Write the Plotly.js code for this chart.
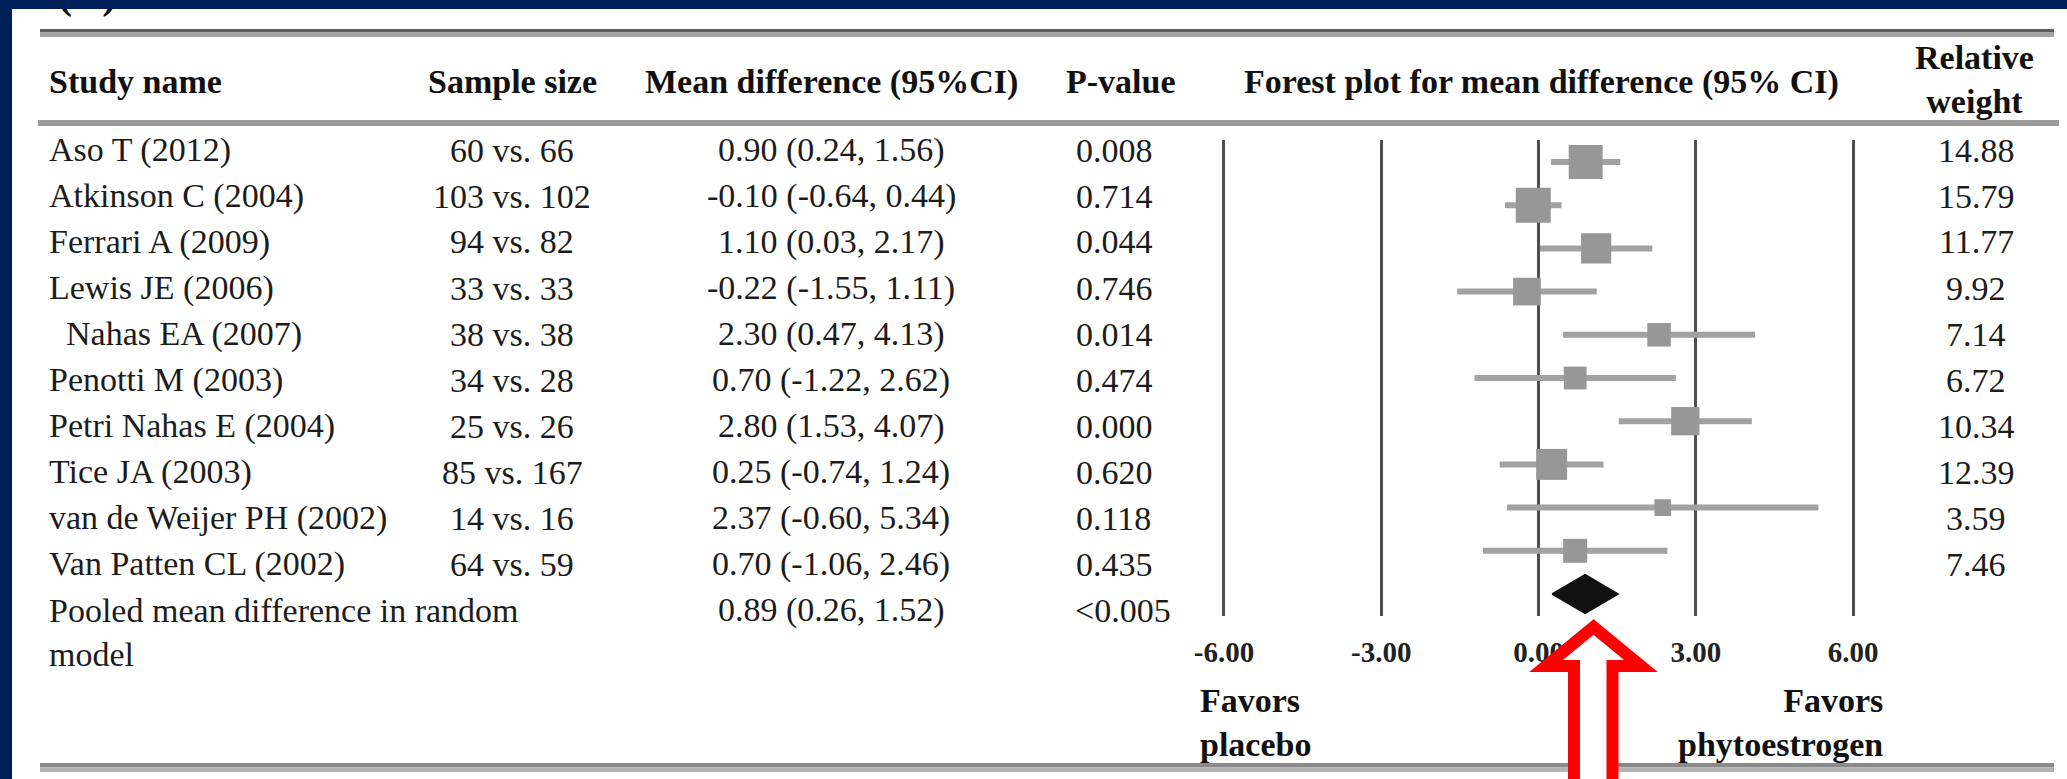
<!DOCTYPE html>
<html>
<head>
<meta charset="utf-8">
<script src="https://cdn.plot.ly/plotly-3.0.1.min.js"></script>
<style>
  html, body { margin: 0; padding: 0; background: #00205b; width: 2067px; height: 779px; overflow: hidden; }
  #chart { position: absolute; left: 12px; top: 9px; width: 2055px; height: 770px; overflow: hidden; background: #ffffff; }
</style>
</head>
<body>
<div id="chart"></div>
<script>
// ---------------- data ----------------
const studyNames = ['Aso T (2012)', 'Atkinson C (2004)', 'Ferrari A (2009)', 'Lewis JE (2006)', ' Nahas EA (2007)',
  'Penotti M (2003)', 'Petri Nahas E (2004)', 'Tice JA (2003)', 'van de Weijer PH (2002)', 'Van Patten CL (2002)'];
const sampleSizes = ['60 vs. 66', '103 vs. 102', '94 vs. 82', '33 vs. 33', '38 vs. 38',
  '34 vs. 28', '25 vs. 26', '85 vs. 167', '14 vs. 16', '64 vs. 59'];
const meanDiff = [0.90, -0.10, 1.10, -0.22, 2.30, 0.70, 2.80, 0.25, 2.37, 0.70];
const ciLower  = [0.24, -0.64, 0.03, -1.55, 0.47, -1.22, 1.53, -0.74, -0.60, -1.06];
const ciUpper  = [1.56, 0.44, 2.17, 1.11, 4.13, 2.62, 4.07, 1.24, 5.34, 2.46];
const pValues  = ['0.008', '0.714', '0.044', '0.746', '0.014', '0.474', '0.000', '0.620', '0.118', '0.435'];
const weights  = [14.88, 15.79, 11.77, 9.92, 7.14, 6.72, 10.34, 12.39, 3.59, 7.46];

const pooledLabel = 'Pooled mean difference in random<br>model';
const pooledMean = 0.89;
const pooledLower = 0.26;
const pooledUpper = 1.52;
const pooledP = '<0.005';

const headers = ['Study name', 'Sample size', 'Mean difference (95%CI)', 'P-value',
  'Forest plot for mean difference (95% CI)', 'Relative<br>weight'];
const tickValues = [-6, -3, 0, 3, 6];
const tickLabels = ['-6.00', '-3.00', '0.00', '3.00', '6.00'];
const favorsLeft = 'Favors<br>placebo';
const favorsRight = 'Favors<br>phytoestrogen';
const panelLabel = '(A)';

// ---------------- geometry (pixels of the full picture) ----------------
const OX = 12, OY = 9, W = 2055, H = 770;
const X = px => (px - OX) / W;
const Y = py => 1 - (py - OY) / H;
const esc = s => String(s).replace(/</g, '&lt;').replace(/>/g, '&gt;');

const FONT = 'Liberation Serif, Times New Roman, serif';
const TXT = '#1c1c1c';
const rowTop = 150, rowStep = 46;           // table text rows
const plotLeft = 1200, plotRight = 1880;    // forest plot horizontal extent
const zeroPx = 1538.5, unitPx = 52.42;
const plotTop = 140.4, plotBottom = 615.6;  // forest plot vertical extent

const rowIdx = meanDiff.map((_, i) => i);
const pooledIdx = meanDiff.length;
const diamondHalf = 0.45;

// ---------------- traces ----------------
const studyTrace = {
  type: 'scatter', mode: 'markers',
  x: meanDiff, y: rowIdx,
  marker: { symbol: 'square', color: '#979797', opacity: 1, size: weights.map(w => 8.8 * Math.sqrt(w)), line: { width: 0 } },
  error_x: {
    type: 'data', symmetric: false,
    array: ciUpper.map((u, i) => u - meanDiff[i]),
    arrayminus: ciLower.map((l, i) => meanDiff[i] - l),
    color: '#a2a2a2', thickness: 6, width: 0
  },
  hoverinfo: 'skip'
};
const diamondTrace = {
  type: 'scatter', mode: 'lines',
  x: [pooledLower, pooledMean, pooledUpper, pooledMean, pooledLower],
  y: [pooledIdx, pooledIdx - diamondHalf, pooledIdx, pooledIdx + diamondHalf, pooledIdx],
  fill: 'toself', fillcolor: '#111111', line: { color: '#111111', width: 1.5 },
  hoverinfo: 'skip'
};

// ---------------- annotations ----------------
const annotations = [];
function ann(text, px, py, xanchor, o) {
  annotations.push(Object.assign({
    text: text, xref: 'paper', yref: 'paper', x: X(px), y: Y(py),
    xanchor: xanchor, yanchor: 'middle', showarrow: false,
    font: { family: FONT, size: 34, color: TXT }
  }, o || {}));
}
const bold = { family: FONT, size: 34, color: '#111', weight: 'bold' };
ann(headers[0], 47, 82, 'left', { font: bold });
ann(headers[1], 512, 82, 'center', { font: bold });
ann(headers[2], 831, 82, 'center', { font: bold });
ann(headers[3], 1121, 82, 'center', { font: bold });
ann(headers[4], 1541, 82, 'center', { font: bold });
ann(headers[5], 1974, 80, 'center', { font: bold });

studyNames.forEach((n, i) => {
  const py = rowTop + i * rowStep;
  ann(n.replace(/^ /, '\u00a0\u00a0'), 47, py, 'left');
  ann(sampleSizes[i], 512, py, 'center');
  ann(`${meanDiff[i].toFixed(2)} (${ciLower[i].toFixed(2)}, ${ciUpper[i].toFixed(2)})`, 831, py, 'center');
  ann(pValues[i], 1074, py, 'left');
  ann(weights[i].toFixed(2), 1976, py, 'center');
});
const pooledPy = rowTop + pooledIdx * rowStep;
ann(pooledLabel, 47, pooledPy + 22.5, 'left', { align: 'left' });
ann(`${pooledMean.toFixed(2)} (${pooledLower.toFixed(2)}, ${pooledUpper.toFixed(2)})`, 831, pooledPy, 'center');
ann(esc(pooledP), 1073, pooledPy, 'left');

ann(favorsLeft, 1198, 722.5, 'left', { align: 'left', font: bold });
ann(favorsRight, 1885, 722.5, 'right', { align: 'right', font: bold });
ann(panelLabel, 56, 20, 'left', { yanchor: 'bottom', font: { family: FONT, size: 42, color: '#111', weight: 'bold' } });

// ---------------- shapes ----------------
function rect(x0, y0, x1, y1, color) {
  return { type: 'rect', xref: 'paper', yref: 'paper', x0: X(x0), x1: X(x1), y0: Y(y1), y1: Y(y0),
    fillcolor: color, line: { width: 0 }, layer: 'above' };
}
const shapes = [
  rect(40, 29, 2054, 32.5, '#5c5c5c'),
  rect(40, 32.5, 2054, 37, '#a3a3a3'),
  rect(38, 120, 2059, 126, '#9a9a9a'),
  rect(40, 763, 2054, 767.5, '#8a8a8a'),
  rect(40, 767.5, 2054, 772, '#b2b2b2')
];
const arrowPts = [[1593.5, 627], [1641, 666], [1612.5, 666], [1612.5, 800], [1574, 800], [1574, 666], [1546, 666]];
shapes.push({
  type: 'path', xref: 'paper', yref: 'paper', layer: 'above',
  path: 'M ' + arrowPts.map(p => X(p[0]) + ',' + Y(p[1])).join(' L ') + ' Z',
  fillcolor: '#ffffff', line: { color: '#ff0000', width: 12 }
});

// ---------------- layout ----------------
const layout = {
  width: W, height: H,
  margin: { l: 0, r: 0, t: 0, b: 0, pad: 0 },
  paper_bgcolor: '#ffffff', plot_bgcolor: 'rgba(0,0,0,0)',
  showlegend: false,
  xaxis: {
    domain: [X(plotLeft), X(plotRight)],
    range: [(plotLeft - zeroPx) / unitPx, (plotRight - zeroPx) / unitPx],
    showgrid: true, gridcolor: '#4f4f4f', gridwidth: 3,
    zeroline: false, showline: false, ticks: '',
    tickmode: 'array', tickvals: tickValues, ticktext: tickLabels,
    tickfont: { family: FONT, size: 29, color: '#222', weight: 'bold' },
    ticklabelstandoff: 16, fixedrange: true
  },
  yaxis: {
    domain: [Y(plotBottom), Y(plotTop)],
    range: [pooledIdx + 0.5, -0.5],
    showgrid: false, zeroline: false, showline: false, showticklabels: false, ticks: '',
    fixedrange: true
  },
  annotations: annotations,
  shapes: shapes
};

Plotly.newPlot('chart', [studyTrace, diamondTrace], layout, { staticPlot: true, displayModeBar: false });
</script>
</body>
</html>
